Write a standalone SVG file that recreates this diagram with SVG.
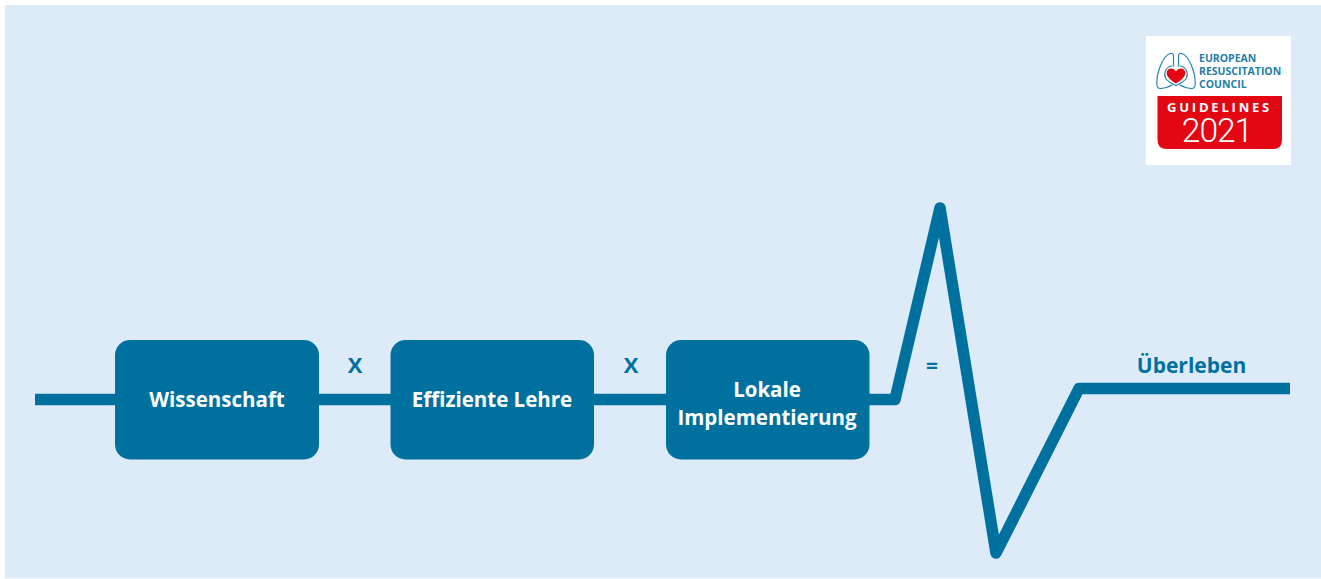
<svg xmlns="http://www.w3.org/2000/svg" width="1321" height="579" viewBox="0 0 1321 579">
<style>
.box{fill:#00719f}
.line{fill:none;stroke:#00719f;stroke-width:11.500;stroke-linejoin:round;stroke-linecap:butt}
text{font-family:"Open Sans","Liberation Sans",sans-serif;font-weight:700}
.w{fill:#fff;font-size:20.5px;text-anchor:middle}
.b{fill:#00719f;font-size:21px;text-anchor:middle}
.logo{fill:#1f7ea8;font-size:10.5px;font-weight:700}
</style>
<defs>
<g id="lung" fill="none" stroke="#2a85ad" stroke-width="1.200" stroke-linejoin="round" stroke-linecap="round">
<path d="M1173.500 66V56Q1173.500 53 1170 53.500C1163 56 1156.500 72 1156.800 84Q1157 89 1161 88.500Q1168 87.500 1172 85"/>
<path d="M1172 66C1165 67 1163.500 74 1165.500 78C1168 82 1172.500 84 1176 85.500"/>
</g>
</defs>
<rect width="1321" height="579" fill="#fff"/>
<rect x="5" y="5" width="1316" height="573.500" fill="#ddebf9"/>
<g id="connectors">
<path class="line" d="M35 399.500H895L940 208L996 553L1079 388.500H1290"/>
</g>
<g id="node-wissenschaft"><rect class="box" x="115" y="340" width="204" height="119.500" rx="15"/><text class="w" x="217" y="406.500">Wissenschaft</text></g>
<g id="node-lehre"><rect class="box" x="390.500" y="340" width="203.500" height="119.500" rx="15"/><text class="w" x="492" y="406.500">Effiziente Lehre</text></g>
<g id="node-implementierung"><rect class="box" x="666" y="340" width="203.500" height="119.500" rx="15"/><text class="w" x="767" y="396.500">Lokale</text><text class="w" x="767" y="424.500">Implementierung</text></g>
<g id="labels">
<text class="b" x="355" y="373" style="font-size:22px">X</text>
<text class="b" x="631" y="373" style="font-size:22px">X</text>
<text class="b" x="932" y="373">=</text>
<text class="b" x="1191.500" y="373">Überleben</text>
</g>
<g id="logo">
<rect x="1146" y="36" width="145" height="129" fill="#fff"/>
<use href="#lung"/>
<use href="#lung" transform="matrix(-1 0 0 1 2352 0)"/>
<path d="M1176 83.500C1169 79.500 1166 75.500 1166.800 72C1167.800 67.500 1174 67.500 1176 71.500C1178 67.500 1184.200 67.500 1185.200 72C1186 75.500 1183 79.500 1176 83.500Z" fill="#e30613"/>
<text class="logo" x="1199" y="62">EUROPEAN</text>
<text class="logo" x="1199" y="75">RESUSCITATION</text>
<text class="logo" x="1199" y="88">COUNCIL</text>
<path d="M1157.500 96H1282V140Q1282 149 1273 149H1167Q1157.500 149 1157.500 140Z" fill="#e30613"/>
<text x="1219.500" y="112" fill="#fff" font-size="13" text-anchor="middle" letter-spacing="2.800">GUIDELINES</text>
<text x="1217" y="142" fill="#fff" font-size="33.500" text-anchor="middle" letter-spacing="-1" style="font-family:Roboto,'Open Sans',sans-serif;font-weight:300">2021</text>
</g>
</svg>
